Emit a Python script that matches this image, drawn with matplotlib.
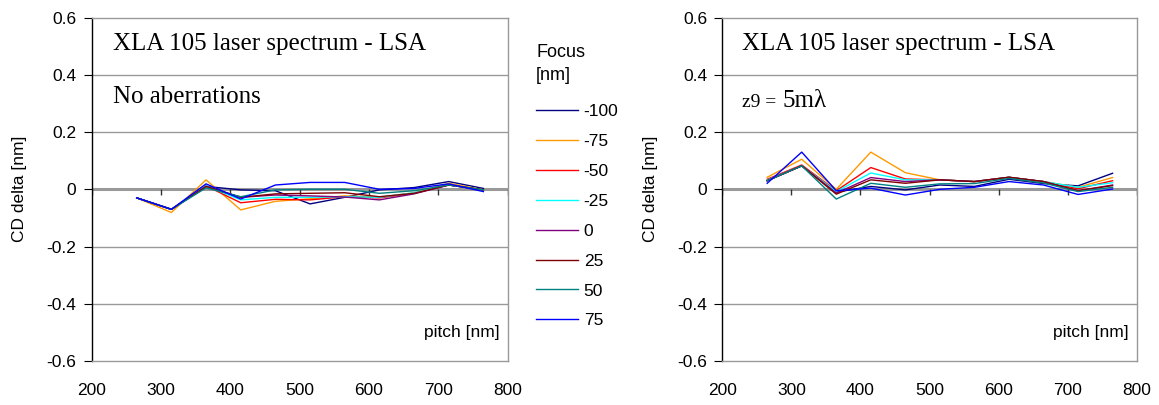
import matplotlib
matplotlib.use('Agg')
from matplotlib import pyplot as plt

# pitch values (x) shared by both panels
pitch = [265, 315, 365, 415, 465, 515, 565, 615, 665, 715, 765]
focus_labels = ['-100', '-75', '-50', '-25', '0', '25', '50', '75']
colors = ['#000080', '#FF9900', '#FF0000', '#00FFFF', '#800080', '#800000', '#008080', '#0000FF']

# left panel: no aberrations
lsa_m100 = [-0.030, -0.070, 0.010, -0.002, -0.005, -0.051, -0.028, -0.002, 0.006, 0.027, 0.003]
lsa_m75 = [-0.030, -0.081, 0.033, -0.072, -0.042, -0.033, -0.023, -0.028, -0.012, 0.021, -0.002]
lsa_m50 = [-0.030, -0.070, 0.012, -0.047, -0.035, -0.037, -0.026, -0.030, -0.014, 0.015, -0.002]
lsa_m25 = [-0.030, -0.070, 0.012, -0.037, -0.028, -0.028, -0.026, -0.028, -0.012, 0.015, -0.002]
lsa_0 = [-0.030, -0.070, 0.010, -0.028, -0.020, -0.023, -0.027, -0.037, -0.016, 0.015, -0.002]
lsa_25 = [-0.030, -0.070, 0.010, -0.028, -0.016, -0.014, -0.012, -0.026, -0.014, 0.015, -0.002]
lsa_50 = [-0.030, -0.070, 0.005, -0.026, -0.002, 0.000, 0.000, -0.014, -0.005, 0.015, -0.002]
lsa_75 = [-0.030, -0.070, 0.019, -0.034, 0.015, 0.024, 0.024, 0.000, 0.003, 0.019, -0.008]

# right panel: z9 = 5 mlambda
z9_m100 = [0.030, 0.082, -0.010, 0.010, -0.002, 0.015, 0.010, 0.035, 0.020, 0.012, 0.056]
z9_m75 = [0.042, 0.105, 0.000, 0.130, 0.058, 0.033, 0.027, 0.042, 0.027, 0.007, 0.041]
z9_m50 = [0.035, 0.085, -0.005, 0.076, 0.036, 0.033, 0.027, 0.042, 0.027, 0.002, 0.030]
z9_m25 = [0.032, 0.082, -0.008, 0.057, 0.033, 0.033, 0.027, 0.042, 0.027, 0.007, 0.023]
z9_0 = [0.030, 0.082, -0.013, 0.041, 0.027, 0.033, 0.027, 0.042, 0.027, -0.005, 0.015]
z9_25 = [0.030, 0.082, -0.017, 0.033, 0.021, 0.033, 0.027, 0.042, 0.027, -0.005, 0.013]
z9_50 = [0.030, 0.082, -0.034, 0.021, 0.007, 0.019, 0.020, 0.038, 0.022, -0.008, 0.007]
z9_75 = [0.021, 0.130, -0.005, 0.004, -0.020, 0.000, 0.007, 0.027, 0.015, -0.018, 0.001]

x_ticks = [200, 300, 400, 500, 600, 700, 800]
y_ticks = [-0.6, -0.4, -0.2, 0, 0.2, 0.4, 0.6]
y_ticklabels = ['-0.6', '-0.4', '-0.2', '0', '0.2', '0.4', '0.6']

SANS = 'Liberation Sans'
SERIF = 'Liberation Serif'
GRID = '#999999'

plt.rcParams['font.family'] = SANS

fig = plt.figure(figsize=(11.59, 4.05), dpi=100)
ax1 = fig.add_axes([0.0791, 0.1086, 0.3589, 0.848])
ax2 = fig.add_axes([0.6232, 0.1086, 0.3576, 0.848])


def setup(ax, series, title_x):
    for s, c, lab in zip(series, colors, focus_labels):
        ax.plot(pitch, s, color=c, lw=1.0, label=lab, zorder=3)
    ax.set_xlim(200, 800)
    ax.set_ylim(-0.6, 0.6)
    ax.set_xticks(x_ticks)
    ax.set_yticks(y_ticks)
    ax.set_yticklabels(y_ticklabels)
    ax.tick_params(axis='x', length=0, labelsize=12.5, pad=16)
    ax.tick_params(axis='y', length=6, direction='out', labelsize=12.5, pad=5, color='black')
    for y in [-0.4, -0.2, 0.2, 0.4]:
        ax.axhline(y, color=GRID, lw=1.0, zorder=1)
    ax.axhline(0, color=GRID, lw=2.2, zorder=2)
    # small tick marks hanging below the zero line (category axis crosses at 0)
    ax.vlines(x_ticks, -0.02, 0, color='#333333', lw=1.0, zorder=2)
    for side in ['top', 'right', 'bottom']:
        ax.spines[side].set_color(GRID)
        ax.spines[side].set_linewidth(1.0)
    ax.spines['left'].set_color('black')
    ax.spines['left'].set_linewidth(1.0)
    ax.set_ylabel('CD delta [nm]', fontsize=12.5, labelpad=14)
    ax.text(0.98, 0.07, 'pitch [nm]', transform=ax.transAxes, ha='right',
            va='baseline', fontsize=12.5)
    ax.text(title_x, 0.905, 'XLA 105 laser spectrum - LSA', transform=ax.transAxes,
            ha='left', va='baseline', fontsize=18, family=SERIF)


setup(ax1, [lsa_m100, lsa_m75, lsa_m50, lsa_m25, lsa_0, lsa_25, lsa_50, lsa_75], 0.051)
ax1.text(0.051, 0.751, 'No aberrations', transform=ax1.transAxes, ha='left',
         va='baseline', fontsize=18, family=SERIF)

setup(ax2, [z9_m100, z9_m75, z9_m50, z9_m25, z9_0, z9_25, z9_50, z9_75], 0.0475)
ax2.text(0.0475, 0.739, 'z9 = ', transform=ax2.transAxes, ha='left',
         va='baseline', fontsize=14, family=SERIF)
ax2.text(0.146, 0.739, '5m\u03bb', transform=ax2.transAxes, ha='left',
         va='baseline', fontsize=18, family=SERIF)

handles, labels = ax1.get_legend_handles_labels()
leg = fig.legend(handles, labels, title='Focus\n[nm]', loc='upper left',
                 bbox_to_anchor=(536 / 1159, 1 - 44 / 405), frameon=False,
                 fontsize=12.5, title_fontsize=13, labelspacing=0.85,
                 handlelength=2.4, handletextpad=0.35, borderaxespad=0,
                 borderpad=0)
leg._legend_box.align = 'left'
leg.get_title().set_linespacing(1.5)
leg._legend_box.sep = 14

fig.savefig('out.png', dpi=100)
